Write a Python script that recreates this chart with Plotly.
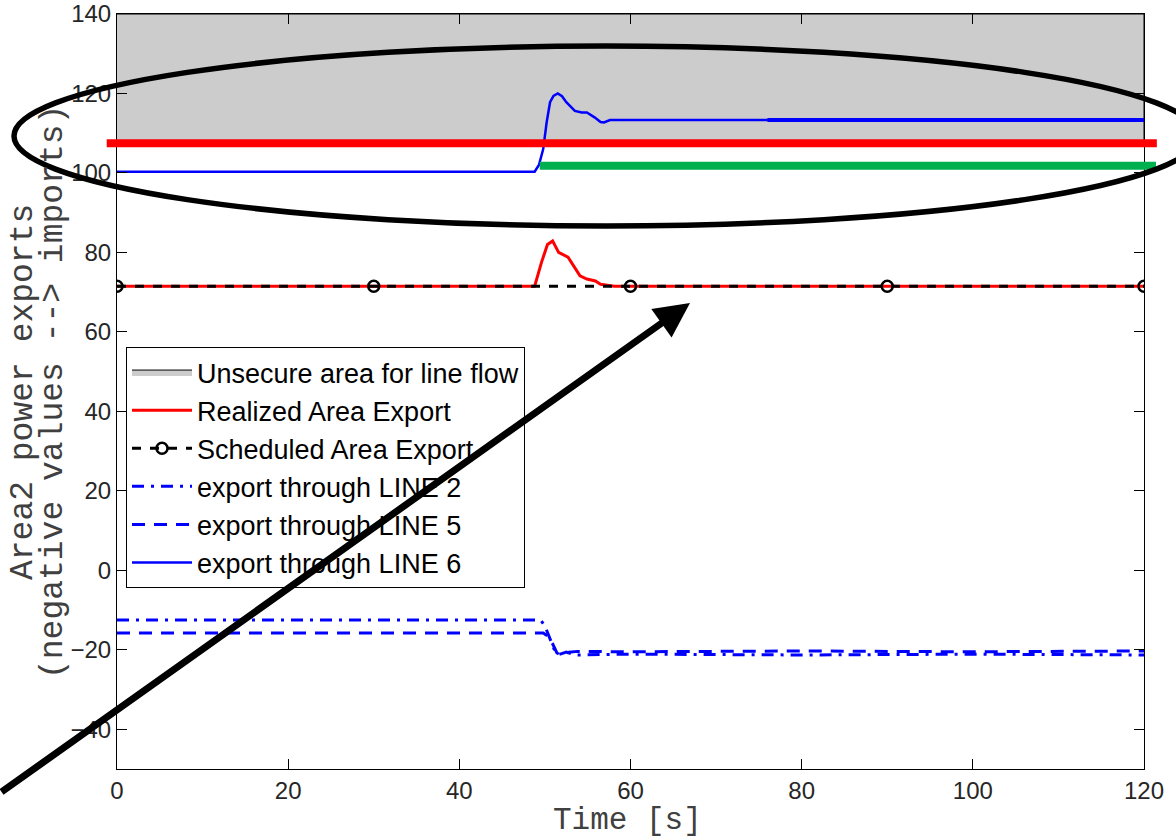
import plotly.graph_objects as go

# ---- data ------------------------------------------------------------
# Unsecure band for the line flow (y-range of the grey area)
unsecure_t = [0, 120, 120, 0]
unsecure_y = [108, 108, 140, 140]

# Realized area export (red)
t_real = [0, 48.8, 49.6, 50.3, 50.9, 51.6, 52.7, 54.1, 54.9, 55.9, 56.5, 58.1, 120]
realized = [71.5, 71.5, 77.5, 82.0, 82.9, 80.0, 78.8, 74.1, 73.3, 72.8, 72.0, 71.5, 71.5]

# Scheduled area export (black dashed, markers every 30 s)
t_sched = [0, 30, 60, 90, 120]
scheduled = [71.5, 71.5, 71.5, 71.5, 71.5]

# Flow through LINE 2 (dash-dot)
t_line2 = [0, 49.5, 50.0, 50.6, 51.2, 51.6, 52.5, 53.5, 60, 80, 100, 120]
line2 = [-12.5, -12.5, -14.0, -17.5, -20.5, -21.2, -20.6, -21.3, -21.1, -21.3, -21.1, -21.3]

# Flow through LINE 5 (dashed)
t_line5 = [0, 49.8, 50.3, 50.9, 51.4, 51.9, 52.8, 53.8, 60, 80, 100, 120]
line5 = [-15.8, -15.8, -16.5, -18.5, -20.8, -21.4, -20.6, -20.4, -20.5, -20.3, -20.5, -20.3]

# Flow through LINE 6 (solid)
t_line6 = [0, 48.8, 49.3, 49.8, 50.2, 50.6, 51.0, 51.5, 52.0, 52.5, 53.5, 54.3,
           54.9, 55.8, 56.5, 56.9, 57.6, 76, 120]
line6 = [100.3, 100.3, 102.0, 106.0, 112.7, 117.8, 119.4, 120.0, 119.3, 117.8, 115.6, 115.2,
         115.2, 114.0, 112.8, 112.7, 113.3, 113.3, 113.3]

# Highlight levels drawn as thick overlay bars
limit_level = 107.5
new_level = 101.8
limit_span = [-1.2, 121.5]
new_span = [49.4, 121.4]

x_ticks = [0, 20, 40, 60, 80, 100, 120]
y_ticks = [-40, -20, 0, 20, 40, 60, 80, 100, 120, 140]
X_RANGE = [0, 120]
Y_RANGE = [-50, 140]

# ---- figure geometry ----------------------------------------------------
W, H = 1176, 837
ML, MR, MT, MB = 117, 32, 14, 68
PW, PH = W - ML - MR, H - MT - MB


def px_x(px):
    return (px - ML) / PW


def px_y(py):
    return (H - MB - py) / PH


def dx(v):
    return (v - X_RANGE[0]) / (X_RANGE[1] - X_RANGE[0])


def dy(v):
    return (v - Y_RANGE[0]) / (Y_RANGE[1] - Y_RANGE[0])


BLUE = "#0000ff"
RED = "#ff0000"
GREEN = "#00b050"

fig = go.Figure()

fig.add_trace(go.Scatter(
    x=unsecure_t, y=unsecure_y, mode="lines", fill="toself",
    fillcolor="#cccccc", line=dict(color="black", width=1),
    name="Unsecure area for line flow"))

fig.add_trace(go.Scatter(
    x=t_real, y=realized, mode="lines",
    line=dict(color=RED, width=3), name="Realized Area Export"))

fig.add_trace(go.Scatter(
    x=t_sched, y=scheduled, mode="lines+markers",
    line=dict(color="black", width=3, dash="9px,9px"),
    marker=dict(symbol="circle-open", size=11, color="black", line=dict(width=2.5)),
    name="Scheduled Area Export"))

fig.add_trace(go.Scatter(
    x=t_line2, y=line2, mode="lines",
    line=dict(color=BLUE, width=3, dash="12px,7px,3px,7px"),
    name="export through LINE 2"))

fig.add_trace(go.Scatter(
    x=t_line5, y=line5, mode="lines",
    line=dict(color=BLUE, width=3, dash="13px,9px"),
    name="export through LINE 5"))

fig.add_trace(go.Scatter(
    x=t_line6, y=line6, mode="lines",
    line=dict(color=BLUE, width=2.5), name="export through LINE 6"))

# heavier stroke on the tail of LINE 6
fig.add_trace(go.Scatter(
    x=t_line6[-2:], y=line6[-2:], mode="lines",
    line=dict(color=BLUE, width=4), showlegend=False, hoverinfo="skip"))

shapes = [
    # flow limit bar (red) and new operating level (green)
    dict(type="line", xref="paper", yref="paper",
         x0=dx(limit_span[0]), x1=dx(limit_span[1]),
         y0=dy(limit_level), y1=dy(limit_level),
         line=dict(color=RED, width=8)),
    dict(type="line", xref="paper", yref="paper",
         x0=dx(new_span[0]), x1=dx(new_span[1]),
         y0=dy(new_level), y1=dy(new_level),
         line=dict(color=GREEN, width=8)),
    # ellipse around the critical region
    dict(type="circle", xref="paper", yref="paper",
         x0=px_x(14), x1=px_x(1198), y0=px_y(226), y1=px_y(46),
         line=dict(color="black", width=5.5)),
]

annotations = [
    # pointer arrow
    dict(xref="paper", yref="paper", x=px_x(690), y=px_y(303),
         ax=-695, ay=490, axref="pixel", ayref="pixel",
         showarrow=True, arrowhead=2, arrowsize=1.0, arrowwidth=7,
         arrowcolor="black", text="", standoff=0),
    # y-axis title (two lines)
    dict(xref="paper", yref="paper", x=px_x(23), y=px_y(392),
         text="Area2 power exports", textangle=-90, showarrow=False,
         font=dict(family="Liberation Mono", size=33, color="#404040"),
         xanchor="center", yanchor="middle"),
    dict(xref="paper", yref="paper", x=px_x(53), y=px_y(392),
         text="(negative values --> imports)", textangle=-90, showarrow=False,
         font=dict(family="Liberation Mono", size=33, color="#404040"),
         xanchor="center", yanchor="middle"),
    # x-axis title
    dict(xref="paper", yref="paper", x=px_x(627), y=px_y(820),
         text="Time [s]", showarrow=False,
         font=dict(family="Liberation Mono", size=31, color="#404040"),
         xanchor="center", yanchor="middle"),
]

axis_common = dict(
    showgrid=False, zeroline=False, showline=True, linecolor="black",
    linewidth=1, mirror="ticks", ticks="inside", ticklen=10, tickcolor="black",
    automargin=False,
    tickfont=dict(family="Liberation Sans", size=24, color="#262626"),
)

fig.update_layout(
    width=W, height=H,
    margin=dict(l=ML, r=MR, t=MT, b=MB, autoexpand=False),
    paper_bgcolor="white", plot_bgcolor="white",
    xaxis=dict(range=X_RANGE, tickvals=x_ticks, **axis_common),
    yaxis=dict(range=Y_RANGE, tickvals=y_ticks, **axis_common),
    shapes=shapes, annotations=annotations,
    legend=dict(
        x=px_x(126), y=px_y(347), xanchor="left", yanchor="top",
        bgcolor="white", bordercolor="black", borderwidth=1,
        font=dict(family="Liberation Sans", size=27, color="black"),
        itemwidth=60, tracegroupgap=0,
    ),
    showlegend=True,
)

fig.write_html("out.html")
